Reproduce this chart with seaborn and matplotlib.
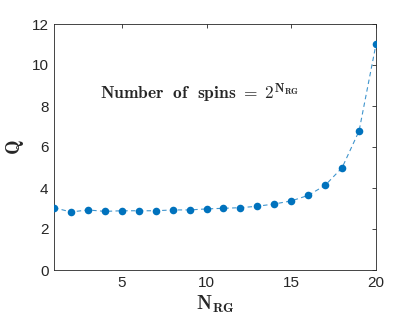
import matplotlib
matplotlib.use("Agg")
import matplotlib.pyplot as plt
import seaborn as sns
import pandas as pd

n_rg = list(range(1, 21))
q_vals = [3.04, 2.83, 2.93, 2.86, 2.89, 2.89, 2.89, 2.93, 2.93, 2.98,
          3.01, 3.04, 3.11, 3.22, 3.37, 3.64, 4.13, 4.99, 6.78, 11.01]
x_ticks = [5, 10, 15, 20]
y_ticks = [0, 2, 4, 6, 8, 10, 12]

sns.set_style("white")
plt.rcParams['font.family'] = ['Liberation Sans', 'DejaVu Sans']
plt.rcParams['mathtext.fontset'] = 'cm'

df = pd.DataFrame({"N": n_rg, "Q": q_vals})
fig = plt.figure(figsize=(4.15, 3.16), dpi=100)
ax = fig.add_axes([54/415, 1 - 270/316, (376-54)/415, (270-24)/316])

sns.lineplot(data=df, x="N", y="Q", ax=ax, color="#0072BD", lw=0.8,
             linestyle=(0, (4, 3)), alpha=0.75)
sns.scatterplot(data=df, x="N", y="Q", ax=ax, color="#0072BD", s=30,
                edgecolor="#0072BD", linewidth=0, zorder=3)

ax.set_xlim(1, 20)
ax.set_ylim(0, 12)
ax.set_xticks(x_ticks)
ax.set_yticks(y_ticks)
ax.tick_params(direction="in", length=3, width=0.6, colors="#262626",
               labelsize=11, top=True, right=True, pad=4)
for s in ax.spines.values():
    s.set_visible(True)
    s.set_color("#262626")
    s.set_linewidth(0.6)

ax.set_xlabel(r"$\mathbf{N_{RG}}$", fontsize=14, labelpad=3)
ax.set_ylabel(r"$\mathbf{Q}$", fontsize=14, labelpad=4)
ax.text(0.453, 0.72,
        r"$\mathbf{Number\ \ of\ \ spins}\ \boldsymbol{=}\ \boldsymbol{2}^{\mathbf{N_{RG}}}$",
        transform=ax.transAxes, ha="center", va="center", fontsize=12.5)

fig.savefig("out.png", dpi=100)
